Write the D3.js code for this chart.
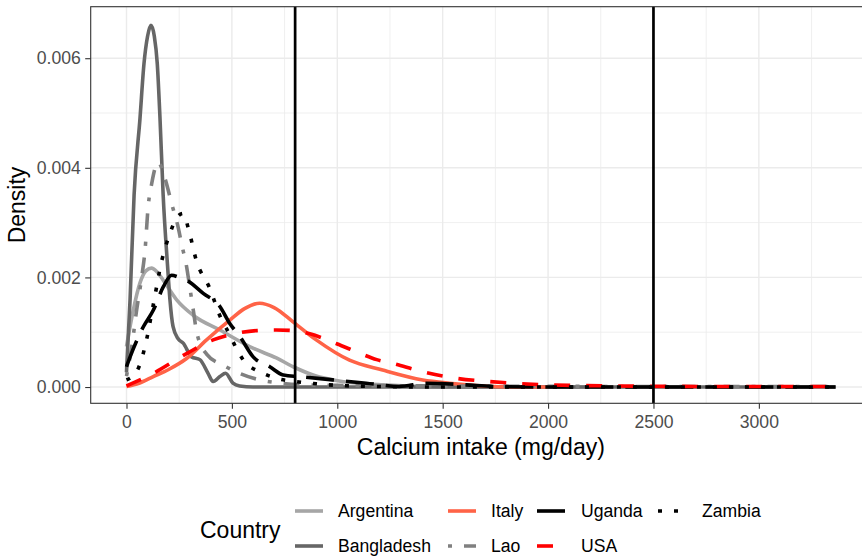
<!DOCTYPE html>
<html>
<head>
<meta charset="utf-8">
<script src="https://cdn.jsdelivr.net/npm/d3@7"></script>
<style>
  body { margin: 0; background: #fff; }
  svg { display: block; font-family: "Liberation Sans", Arial, sans-serif; }
</style>
</head>
<body>
<div id="app"></div>
<script>
// density curves: [calcium intake mg/day, density]
const countries = ['Argentina', 'Bangladesh', 'Italy', 'Lao', 'Uganda', 'USA', 'Zambia']

const argentina = [[0,0.00074],[32,0.0014],[64,0.0019],[92,0.00212],[119,0.00217],[145,0.0021],[174,0.00195],
  [238,0.00159],[316,0.00131],[443,0.00104],[600,0.00071],[711,0.00053],[791,0.00037],[900,0.0002],
  [979,0.00013],[1100,0.00007],[1216,0.00004],[1400,0.00001],[1600,0],[2200,0]]

const bangladesh = [[0,0.00027],[17,0.0016],[36,0.0035],[64,0.0049],[83,0.0059],[100,0.0064],[116,0.0066],
  [132,0.0064],[146,0.0059],[159,0.0049],[174,0.0035],[195,0.0022],[206,0.0016],[221,0.0011],[245,0.00088],
  [269,0.0008],[309,0.00055],[348,0.0005],[387,0.00025],[411,0.0001],[443,0.00019],[470,0.00025],
  [505,0.00007],[537,0.00002],[600,0],[3364,0]]

const italy = [[0,0.00001],[60,0.00007],[127,0.00019],[200,0.00032],[285,0.00052],[380,0.00086],[490,0.00122],
  [560,0.00143],[632,0.00153],[700,0.00145],[790,0.00119],[900,0.00086],[1058,0.00049],[1215,0.00031],
  [1405,0.00013],[1532,0.00007],[1690,0.00002],[1850,0],[2000,0]]

const lao = [[0,0.0002],[25,0.00074],[48,0.0014],[72,0.002],[88,0.0025],[103,0.0033],[119,0.0037],[150,0.0041],
  [183,0.0038],[214,0.00335],[246,0.0029],[262,0.0026],[285,0.0022],[301,0.0018],[317,0.0014],[333,0.001],
  [380,0.0006],[458,0.0004],[537,0.00025],[632,0.00013],[711,0.00008],[850,0.00004],[1000,0.00003],
  [1500,0.00002],[2500,0.00001],[3364,0.00001]]

const uganda = [[0,0.00037],[17,0.00055],[80,0.0011],[127,0.0014],[175,0.00183],[214,0.00204],[250,0.002],
  [285,0.00195],[364,0.00171],[443,0.00147],[490,0.00116],[538,0.00092],[601,0.00055],[680,0.00037],
  [744,0.00022],[821,0.00019],[979,0.00013],[1137,0.00007],[1295,0.00001],[1421,0.00007],[1510,0.00006],
  [1610,0.00004],[1750,0.00001],[2000,0],[3364,0]]

const usa = [[0,0.00002],[127,0.00025],[285,0.00061],[411,0.00086],[522,0.00098],[620,0.00103],[711,0.00104],
  [790,0.00103],[870,0.00097],[997,0.00079],[1105,0.00062],[1187,0.0005],[1263,0.00043],[1405,0.00028],
  [1563,0.00016],[1721,0.0001],[2006,0.00004],[2322,0.00002],[2800,0.00001],[3364,0.00001]]

const zambia = [[0,0.00013],[48,0.00028],[88,0.00074],[127,0.0015],[167,0.0023],[206,0.0028],[240,0.0031],
  [269,0.00317],[293,0.0029],[332,0.0023],[395,0.0018],[443,0.0013],[490,0.00095],[522,0.0007],[553,0.0005],
  [648,0.00025],[711,0.00016],[800,0.0001],[900,0.00006],[1000,0.00003],[1200,0.00001],[1500,0],[3364,0]]

const curves = [argentina, bangladesh, italy, lao, uganda, usa, zambia]

const xBreaks = [0, 500, 1000, 1500, 2000, 2500, 3000]
const xMinor = [250, 750, 1250, 1750, 2250, 2750, 3250, 3500]
const yBreaks = [0, 0.002, 0.004, 0.006]
const yMinor = [0.001, 0.003, 0.005]
const refLines = [800, 2500]

// look of each country, same order as countries
const colours = ['#a6a6a6', '#666666', '#ff6347', '#808080', '#000000', '#ff0000', '#000000']
const u = 4
const dashes = [null, null, null, [u, 3*u, 4*u, 3*u].join(','), [7*u, 3*u].join(','), [4*u, 4*u].join(','), [u, 3*u].join(',')]

const W = 862, H = 558
const panel = { left: 90.7, right: 871, top: 6.7, bottom: 403.3 }

const x = d3.scaleLinear().domain([-169.8, 3532]).range([panel.left, panel.right])
const y = d3.scaleLinear().domain([-0.000297, 0.00694]).range([panel.bottom, panel.top])

const svg = d3.create('svg').attr('width', W).attr('height', H).attr('viewBox', [0, 0, W, H])

svg.append('defs').append('clipPath').attr('id', 'panel-clip')
  .append('rect')
  .attr('x', panel.left).attr('y', panel.top)
  .attr('width', panel.right - panel.left).attr('height', panel.bottom - panel.top)

// grid
const grid = svg.append('g')
grid.selectAll('.vminor').data(xMinor).join('line')
  .attr('x1', d => x(d)).attr('x2', d => x(d)).attr('y1', panel.top).attr('y2', panel.bottom)
  .attr('stroke', '#ebebeb').attr('stroke-width', 0.8)
grid.selectAll('.hminor').data(yMinor).join('line')
  .attr('x1', panel.left).attr('x2', panel.right).attr('y1', d => y(d)).attr('y2', d => y(d))
  .attr('stroke', '#ebebeb').attr('stroke-width', 0.8)
grid.selectAll('.vmajor').data(xBreaks).join('line')
  .attr('x1', d => x(d)).attr('x2', d => x(d)).attr('y1', panel.top).attr('y2', panel.bottom)
  .attr('stroke', '#ebebeb').attr('stroke-width', 1.4)
grid.selectAll('.hmajor').data(yBreaks).join('line')
  .attr('x1', panel.left).attr('x2', panel.right).attr('y1', d => y(d)).attr('y2', d => y(d))
  .attr('stroke', '#ebebeb').attr('stroke-width', 1.4)

// density lines
const line = d3.line()
  .x(d => x(d[0]))
  .y(d => y(d[1]))
  .curve(d3.curveMonotoneX)

svg.append('g').attr('clip-path', 'url(#panel-clip)')
  .selectAll('path')
  .data(curves)
  .join('path')
  .attr('d', line)
  .attr('fill', 'none')
  .attr('stroke', (d, i) => colours[i])
  .attr('stroke-width', 3.6)
  .attr('stroke-dasharray', (d, i) => dashes[i])
  .attr('stroke-linejoin', 'round')

// reference lines
svg.append('g').selectAll('line').data(refLines).join('line')
  .attr('x1', d => x(d)).attr('x2', d => x(d)).attr('y1', panel.top).attr('y2', panel.bottom)
  .attr('stroke', '#000').attr('stroke-width', 2.7)

svg.append('rect')
  .attr('x', panel.left).attr('y', panel.top)
  .attr('width', panel.right - panel.left).attr('height', panel.bottom - panel.top)
  .attr('fill', 'none').attr('stroke', '#333333').attr('stroke-width', 1.1)

// axes
const xAxis = svg.append('g')
  .attr('transform', `translate(0,${panel.bottom})`)
  .call(d3.axisBottom(x).tickValues(xBreaks).tickSize(5.5).tickPadding(7).tickFormat(d3.format('d')))
const yAxis = svg.append('g')
  .attr('transform', `translate(${panel.left},0)`)
  .call(d3.axisLeft(y).tickValues(yBreaks).tickSize(5.5).tickPadding(4.4).tickFormat(d3.format('.3f')))

;[xAxis, yAxis].forEach(a => {
  a.select('.domain').remove()
  a.selectAll('.tick line').attr('stroke', '#333333').attr('stroke-width', 1.1)
  a.selectAll('.tick text')
    .attr('fill', '#4d4d4d')
    .style('font-size', '17.6px')
    .style('font-family', '"Liberation Sans", Arial, sans-serif')
})

svg.append('text')
  .attr('x', (panel.left + panel.right) / 2).attr('y', 455)
  .attr('text-anchor', 'middle')
  .style('font-size', '23px')
  .text('Calcium intake (mg/day)')

svg.append('text')
  .attr('transform', `translate(25,${(panel.top + panel.bottom) / 2}) rotate(-90)`)
  .attr('text-anchor', 'middle')
  .style('font-size', '23px')
  .text('Density')

// legend, two rows filled column by column
const legend = svg.append('g')
legend.append('text')
  .attr('x', 200).attr('y', 538)
  .style('font-size', '23px')
  .text('Country')

const keyCols = [295, 448, 537, 658]
const textCols = [338, 491, 581, 702]
const keyRows = [511, 546]

const items = legend.selectAll('.item')
  .data(countries)
  .join('g')
  .attr('transform', (d, i) => `translate(0,${keyRows[i % 2]})`)

items.append('line')
  .attr('x1', (d, i) => keyCols[Math.floor(i / 2)])
  .attr('x2', (d, i) => keyCols[Math.floor(i / 2)] + 28)
  .attr('stroke', (d, i) => colours[i])
  .attr('stroke-width', 3.6)
  .attr('stroke-dasharray', (d, i) => dashes[i])

items.append('text')
  .attr('x', (d, i) => textCols[Math.floor(i / 2)])
  .attr('dy', '0.35em')
  .style('font-size', '17.6px')
  .text(d => d)

d3.select('#app').append(() => svg.node())
</script>
</body>
</html>
